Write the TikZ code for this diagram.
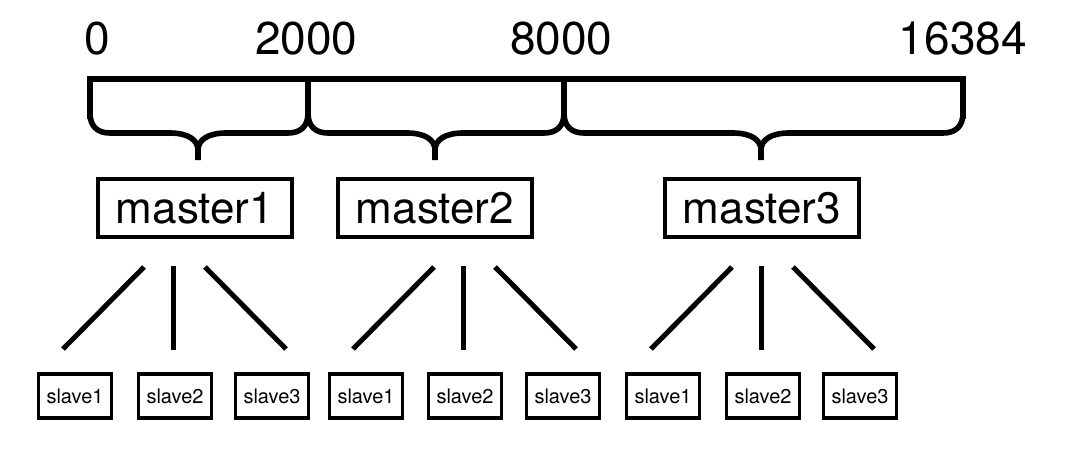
\documentclass[tikz,border=0pt]{standalone}
\usepackage{fontspec}
\setmainfont{TeX Gyre Heros}
\begin{document}
\begin{tikzpicture}[x=1pt,y=-1pt,
  num/.style={inner sep=0pt, font=\fontsize{46}{50}\selectfont},
  masterbox/.style={draw, line width=4.2pt, minimum width=194pt, minimum height=58pt,
    inner sep=0pt, font=\fontsize{44}{48}\selectfont},
  slavebox/.style={draw, line width=3.8pt, minimum width=73pt, minimum height=44pt,
    inner sep=0pt, font=\fontsize{20}{24}\selectfont},
  bracestroke/.style={line width=5.6pt, line join=round},
  fan/.style={line width=5pt}]
\useasboundingbox (0,0) rectangle (1074,460);

% slot boundaries on the scale
\node[num, anchor=base west] (n0) at (84,55) {0};
\node[num, anchor=base west] (n2000) at (255,55) {2000};
\node[num, anchor=base west] (n8000) at (510,55) {8000};
\node[num, anchor=base east] (n16384) at (1027,55) {16384};

% scale bar with its tick marks
\coordinate (t0) at (90,79);
\coordinate (t1) at (308,79);
\coordinate (t2) at (564,79);
\coordinate (t3) at (963,79);
\draw[bracestroke, line join=miter] ([yshift=-40pt]t0) -- (t0) -- (t3) -- ([yshift=-40pt]t3);

% one curly brace per slot range: left end, right end, tip
\foreach \xl/\xr/\xm in {90/308/198, 308/564/435, 564/963/761} {
  \draw[bracestroke] (\xl,79) -- (\xl,113) .. controls (\xl,126) and (\xl+7,133) .. (\xl+20,133)
    -- (\xm-28,133) .. controls (\xm-10,133) and (\xm,140) .. (\xm,150) -- (\xm,160);
  \draw[bracestroke] (\xr,79) -- (\xr,113) .. controls (\xr,126) and (\xr-7,133) .. (\xr-20,133)
    -- (\xm+28,133) .. controls (\xm+10,133) and (\xm,140) .. (\xm,150);
}

% masters
\node[masterbox] (m1) at (195,208) {master1};
\node[masterbox] (m2) at (435,208) {master2};
\node[masterbox] (m3) at (762,208) {master3};

% slaves
\node[slavebox] (s11) at (75,396) {slave1};
\node[slavebox] (s12) at (175,396) {slave2};
\node[slavebox] (s13) at (272,396) {slave3};
\node[slavebox] (s21) at (366,396) {slave1};
\node[slavebox] (s22) at (465,396) {slave2};
\node[slavebox] (s23) at (563,396) {slave3};
\node[slavebox] (s31) at (663,396) {slave1};
\node[slavebox] (s32) at (763,396) {slave2};
\node[slavebox] (s33) at (860,396) {slave3};

% replication fans below each master
\foreach \g/\c in {1/173, 2/463, 3/761} {
  \coordinate (f\g lt) at (\c-29,267);
  \coordinate (f\g lb) at (\c-110,349);
  \coordinate (f\g mt) at (\c,266);
  \coordinate (f\g mb) at (\c,350);
  \coordinate (f\g rt) at (\c+32,267);
  \coordinate (f\g rb) at (\c+113,349);
  \draw[fan] (f\g lt) -- (f\g lb);
  \draw[fan] (f\g mt) -- (f\g mb);
  \draw[fan] (f\g rt) -- (f\g rb);
}
\end{tikzpicture}
\end{document}
